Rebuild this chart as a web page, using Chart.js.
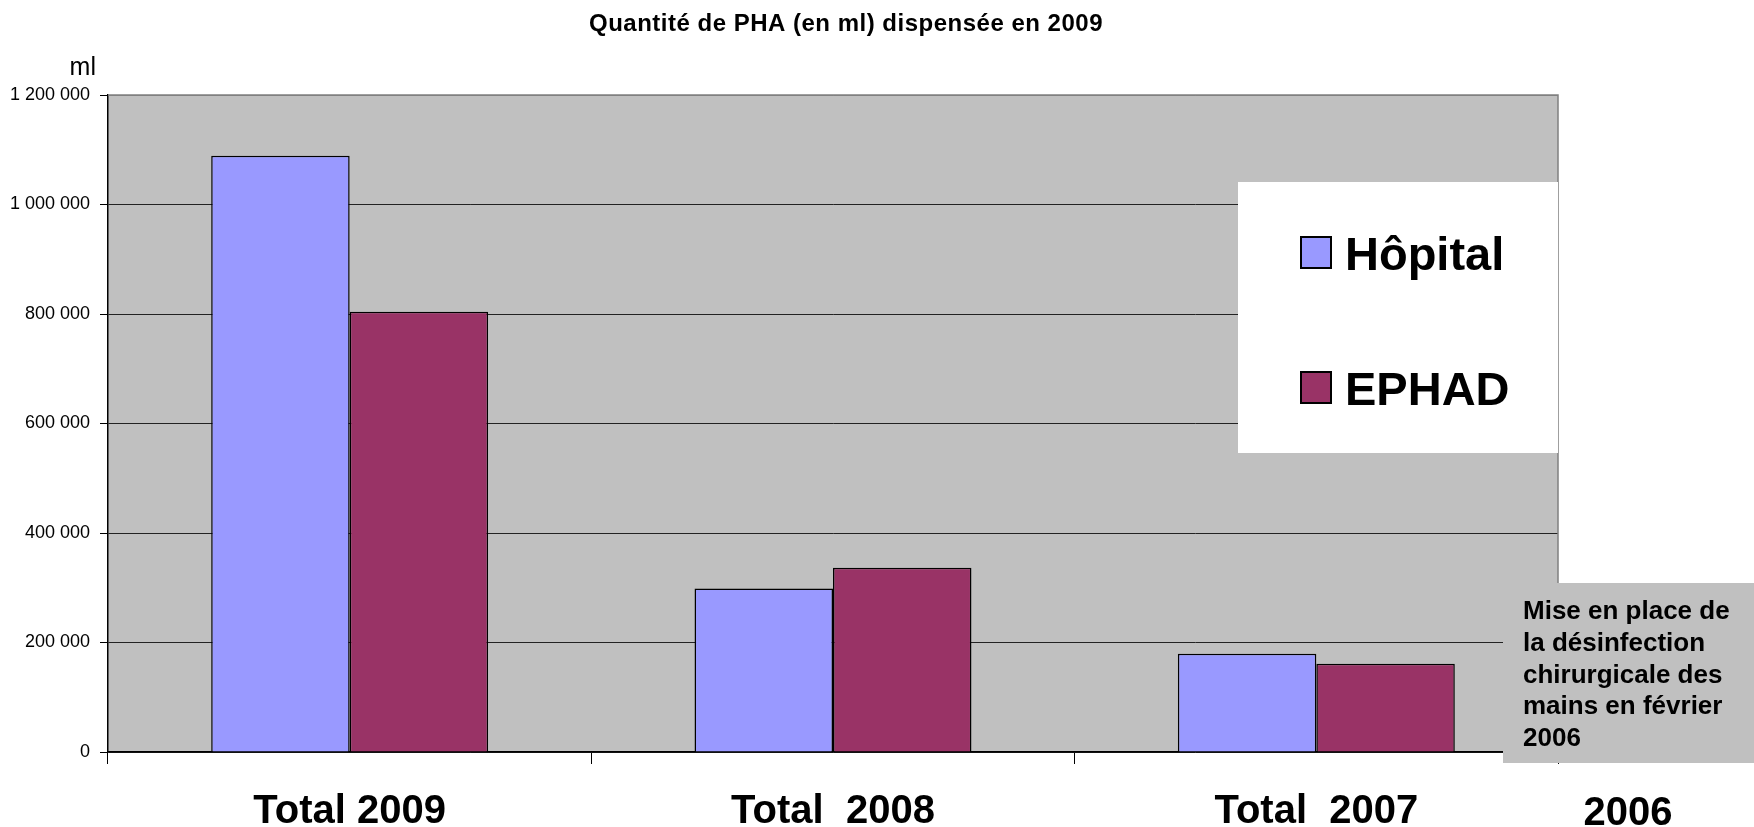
<!DOCTYPE html>
<html>
<head>
<meta charset="utf-8">
<script src="https://cdn.jsdelivr.net/npm/chart.js@4"></script>
<style>
  body { margin: 0; background: #fff; }
</style>
</head>
<body>
<canvas id="c" width="1754" height="827"></canvas>
<script>
var categories = ['Total 2009', 'Total  2008', 'Total  2007'];
var hopital = [1089000, 298500, 179500];
var ephad = [804000, 336500, 161000];
var seriesNames = ['Hôpital', 'EPHAD'];
var seriesColors = ['#9999FF', '#993366'];
var yMax = 1200000;
var yStep = 200000;
var titleText = 'Quantité de PHA (en ml) dispensée en 2009';
var unitText = 'ml';
var extraLabel = '2006';
var noteLines = ['Mise en place de', 'la désinfection', 'chirurgicale des', 'mains en février', '2006'];

var FONT = '"Liberation Sans", Arial, sans-serif';

function spaced(v) {
    return String(v).replace(/\B(?=(\d{3})+(?!\d))/g, ' ');
}

// plot background, borders, title, legend box and the note
var decor = {
    id: 'decor',
    beforeDraw: function (chart) {
        var ctx = chart.ctx, a = chart.chartArea;
        ctx.save();
        ctx.fillStyle = '#C0C0C0';
        ctx.fillRect(a.left, a.top, a.right - a.left, a.bottom - a.top);
        ctx.restore();
    },
    afterDraw: function (chart) {
        var ctx = chart.ctx, a = chart.chartArea;
        ctx.save();

        // gray frame top / right
        ctx.strokeStyle = '#808080';
        ctx.lineWidth = 1.5;
        ctx.beginPath();
        ctx.moveTo(a.left, a.top);
        ctx.lineTo(a.right, a.top);
        ctx.lineTo(a.right, a.bottom);
        ctx.stroke();

        // title
        ctx.fillStyle = '#000';
        ctx.font = 'bold 24px ' + FONT;
        ctx.textAlign = 'center';
        ctx.textBaseline = 'alphabetic';
        ctx.letterSpacing = '0.5px';
        ctx.fillText(titleText, 846, 31);
        ctx.letterSpacing = '0px';

        // unit
        ctx.font = '25px ' + FONT;
        ctx.textAlign = 'right';
        ctx.fillText(unitText, 96, 75);

        // legend
        ctx.fillStyle = '#fff';
        ctx.fillRect(1238, 182, a.right - 1238, 271);
        var rows = [237, 372];
        chart.data.datasets.forEach(function (ds, i) {
            ctx.fillStyle = ds.backgroundColor;
            ctx.fillRect(1301, rows[i], 30, 31);
            ctx.strokeStyle = '#000';
            ctx.lineWidth = 2;
            ctx.strokeRect(1301, rows[i], 30, 31);
            ctx.fillStyle = '#000';
            ctx.font = 'bold 47px ' + FONT;
            ctx.textAlign = 'left';
            ctx.fillText(ds.label, 1345, rows[i] + 33);
        });

        // note box
        ctx.fillStyle = '#C0C0C0';
        ctx.fillRect(1503, 583, chart.width - 1503, 180);
        ctx.fillStyle = '#000';
        ctx.font = 'bold 26px ' + FONT;
        ctx.textAlign = 'left';
        noteLines.forEach(function (t, i) {
            ctx.fillText(t, 1523, 619 + i * 31.8);
        });

        // label under the note
        ctx.font = 'bold 40px ' + FONT;
        ctx.textAlign = 'center';
        ctx.fillText(extraLabel, 1628, 825);

        ctx.restore();
    }
};

var ctx = document.getElementById('c').getContext('2d');
var chart = new Chart(ctx, {
    type: 'bar',
    data: {
        labels: categories,
        datasets: [{
            label: seriesNames[0],
            data: hopital,
            backgroundColor: seriesColors[0],
            borderColor: '#000',
            borderWidth: 1.5,
            categoryPercentage: 0.573,
            barPercentage: 1.0
        }, {
            label: seriesNames[1],
            data: ephad,
            backgroundColor: seriesColors[1],
            borderColor: '#000',
            borderWidth: 1.5,
            categoryPercentage: 0.573,
            barPercentage: 1.0
        }]
    },
    options: {
        responsive: false,
        animation: false,
        events: [],
        layout: {
            padding: { top: 95, right: 196, left: 0, bottom: 0 }
        },
        plugins: {
            legend: { display: false },
            title: { display: false },
            tooltip: { enabled: false }
        },
        scales: {
            x: {
                afterFit: function (scale) { scale.height = 75; },
                grid: {
                    drawOnChartArea: false,
                    color: '#000',
                    tickLength: 12
                },
                border: { color: '#000', width: 1.5 },
                ticks: {
                    color: '#000',
                    padding: 24,
                    font: { family: FONT, size: 40, weight: 'bold' }
                }
            },
            y: {
                min: 0,
                max: yMax,
                afterFit: function (scale) { scale.width = 108; },
                grid: {
                    color: function (c) { return c.tick && c.tick.value === yMax ? '#808080' : '#222'; },
                    tickColor: '#000',
                    tickLength: 8
                },
                border: { color: '#000', width: 1.5 },
                ticks: {
                    stepSize: yStep,
                    color: '#000',
                    padding: 10,
                    font: { family: FONT, size: 18 },
                    callback: function (v) { return spaced(v); }
                }
            }
        }
    },
    plugins: [decor]
});
</script>
</body>
</html>
